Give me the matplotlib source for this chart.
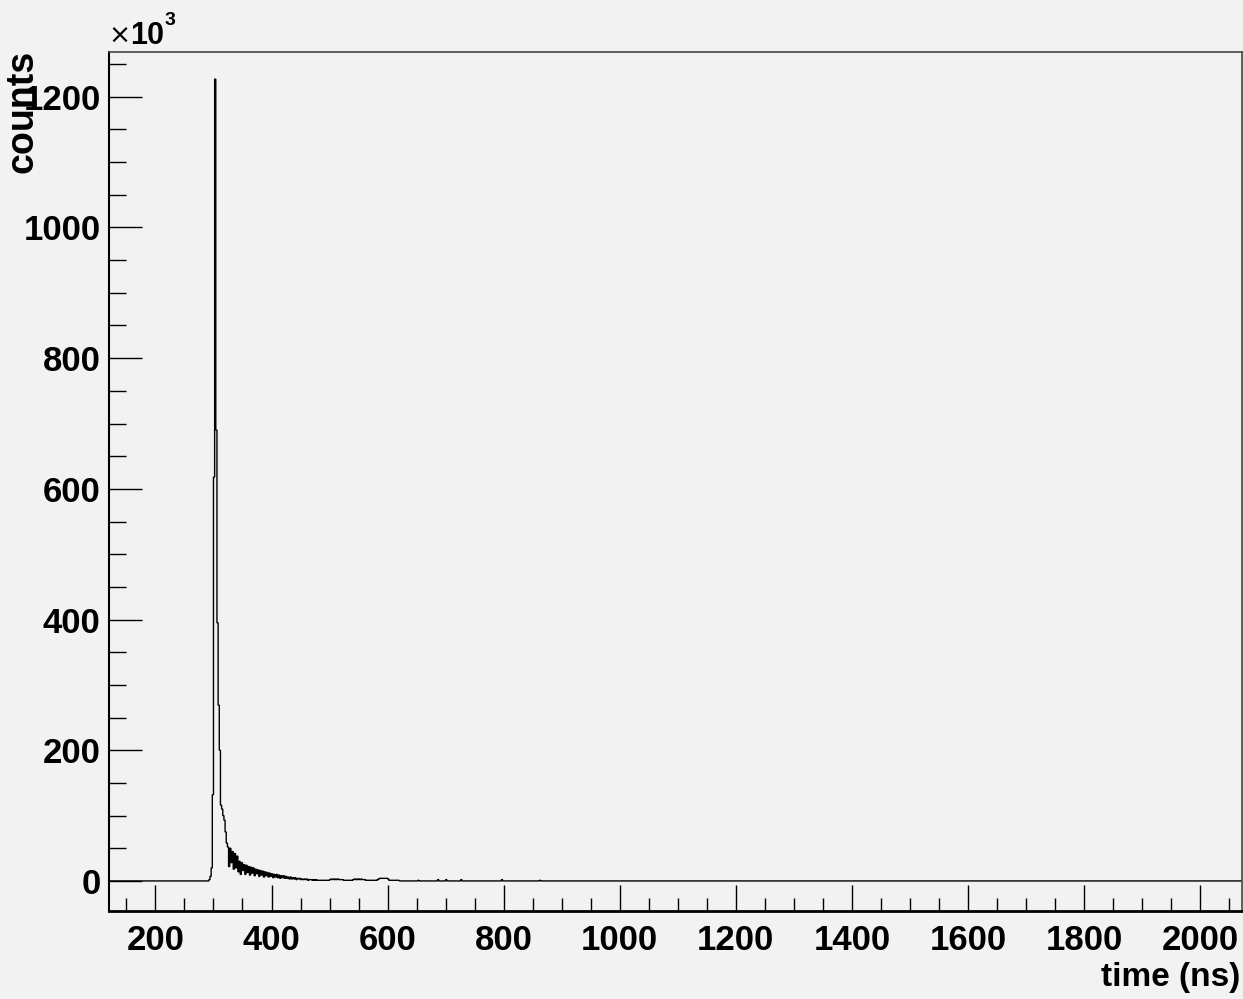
import numpy as np
import matplotlib.pyplot as plt
from matplotlib.ticker import MultipleLocator

# histogram binning (ns)
t_min, t_max = 120, 2072
bin_width = 2

# counts (x10^3) per 2 ns bin, starting at 290 ns
peak_start = 290
peak_counts = [0, 2, 7, 20, 132, 618, 1227, 690, 395, 269,
               200, 116, 110, 100, 93, 75, 58,
               52, 22, 50, 28, 45, 18, 42, 20, 38, 14,
               30, 10, 28, 16, 25, 10, 24, 13, 22, 9,
               21, 12, 20, 8, 18, 11, 17, 7, 16, 9,
               15, 6, 14, 8, 13, 6, 12, 7, 11, 5,
               10, 6, 10, 5, 9, 4, 8, 5, 8, 4,
               7, 4, 6, 3, 6, 3, 5, 3, 5, 2,
               4, 3, 4, 2, 3, 2, 3, 2, 3, 1,
               2, 2, 2, 1, 2, 1, 2, 1, 1, 1]

# slow tail, starting at 480 ns
tail_start = 480
tail_counts = [1, 1, 1, 1, 1, 1, 1, 1, 1, 1,
               2, 3, 2, 3, 2, 3, 2, 3, 2, 2, 2, 2,
               1, 1, 1, 1, 1, 1, 1, 1,
               2, 3, 2, 3, 2, 3, 2, 3, 2, 2, 2,
               1, 1, 1, 1, 1, 1, 1, 1, 1, 1,
               2, 3, 4, 4, 4, 4, 4, 4, 4, 3,
               1, 1, 1, 1, 1, 1, 1, 1, 1]

# isolated late hits
late_times = [652, 686, 700, 726, 796, 862]
late_counts = [1, 2, 2, 2, 2, 1]

edges = np.arange(t_min, t_max + bin_width, bin_width)
hist = np.zeros(len(edges) - 1)

def fill(start, vals):
    i0 = (start - t_min) // bin_width
    hist[i0:i0 + len(vals)] = vals

fill(peak_start, peak_counts)
fill(tail_start, tail_counts)
for t, c in zip(late_times, late_counts):
    hist[(t - t_min) // bin_width] = c

W, H = 1243, 999
bg = '#f2f2f2'
fam = ['Liberation Sans', 'DejaVu Sans']
fs = 25

fig = plt.figure(figsize=(W / 100, H / 100), dpi=100, facecolor=bg)
ax = fig.add_axes([109 / W, 1 - 911 / H, (1242 - 109) / W, (911 - 51.7) / H])
ax.set_facecolor(bg)

ax.stairs(hist, edges, color='black', linewidth=1.0)

ax.set_xlim(t_min, t_max)
ax.set_ylim(-46, 1269)

ax.xaxis.set_major_locator(MultipleLocator(200))
ax.xaxis.set_minor_locator(MultipleLocator(50))
ax.yaxis.set_major_locator(MultipleLocator(200))
ax.yaxis.set_minor_locator(MultipleLocator(50))

ax.tick_params(which='both', direction='in', top=False, right=False, color='black')
ax.tick_params(axis='x', which='major', length=18.5, width=1.0, pad=9)
ax.tick_params(axis='x', which='minor', length=9.3, width=1.0)
ax.tick_params(axis='y', which='major', length=24, width=1.0, pad=6)
ax.tick_params(axis='y', which='minor', length=12, width=1.0)

for lab in ax.get_xticklabels() + ax.get_yticklabels():
    lab.set_family(fam)
    lab.set_fontweight('bold')
    lab.set_fontsize(fs)

ax.spines['left'].set_linewidth(1.5)
ax.spines['bottom'].set_linewidth(2.0)
for s in ('top', 'right'):
    ax.spines[s].set_linewidth(1.2)
    ax.spines[s].set_color('#444444')

fig.text(22 / W, 1 - 50 / H, 'counts', rotation=90, ha='center', va='top',
         family=fam, fontweight='bold', fontsize=27)
fig.text(1240 / W, 1 - 993 / H, 'time (ns)', ha='right', va='bottom',
         family=fam, fontweight='bold', fontsize=24)

# axis multiplier
fig.text(108 / W, 1 - 44 / H, '×', ha='left', va='baseline',
         family=['DejaVu Sans'], fontsize=19)
fig.text(130 / W, 1 - 44 / H, '10', ha='left', va='baseline',
         family=fam, fontweight='bold', fontsize=22)
fig.text(165 / W, 1 - 25 / H, '3', ha='left', va='baseline',
         family=fam, fontweight='bold', fontsize=14)

fig.savefig('out.png', dpi=100, facecolor=bg)
